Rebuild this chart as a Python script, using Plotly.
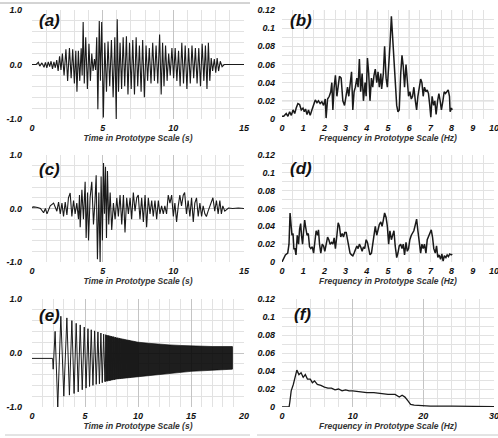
import plotly.graph_objects as go

# ---- (a) acceleration record, time [s] / normalised amplitude ----
a_time = [0.0, 0.3, 0.45, 0.55, 0.7, 0.85, 0.95, 1.05, 1.15, 1.25, 1.35, 1.45, 1.55, 1.65, 1.75, 1.85,
          1.95, 2.05, 2.15, 2.27, 2.4, 2.52, 2.65, 2.77, 2.88, 3.0, 3.1, 3.18, 3.28, 3.38, 3.48, 3.55,
          3.62, 3.7, 3.8, 3.92, 4.03, 4.13, 4.23, 4.32, 4.42, 4.5, 4.58, 4.66, 4.76, 4.84, 4.93, 5.05,
          5.15, 5.27, 5.38, 5.5, 5.62, 5.74, 5.86, 5.96, 6.03, 6.12, 6.23, 6.34, 6.45, 6.56, 6.68, 6.79,
          6.9, 7.02, 7.13, 7.25, 7.37, 7.48, 7.6, 7.72, 7.83, 7.95, 8.07, 8.18, 8.3, 8.42, 8.54, 8.66,
          8.78, 8.9, 9.03, 9.14, 9.24, 9.34, 9.45, 9.56, 9.67, 9.78, 9.9, 10.02, 10.13, 10.25, 10.37,
          10.48, 10.6, 10.72, 10.84, 10.96, 11.08, 11.2, 11.32, 11.44, 11.56, 11.68, 11.8, 11.92, 12.04,
          12.16, 12.27, 12.38, 12.48, 12.58, 12.68, 12.78, 12.9, 13.0, 13.1, 13.2, 13.32, 13.45, 13.6, 15.0]
a_acc = [0.0, 0.0, 0.04, -0.03, 0.03, -0.05, 0.04, -0.06, 0.05, -0.04, 0.06, -0.08, 0.05, -0.06, 0.08, -0.12,
         0.15, -0.1, 0.2, -0.2, 0.28, -0.3, 0.3, -0.25, 0.28, -0.35, 0.25, -0.5, 0.25, -0.3, 0.3, -0.2,
         0.78, -0.35, 0.5, -0.45, 0.38, -0.3, 0.2, -0.12, 0.1, -0.1, 0.5, -0.82, 0.8, -0.3, 0.78, -0.97,
         0.4, -0.5, 0.42, -0.4, 0.45, -0.6, 0.5, -1.0, 0.83, -0.5, 0.4, -0.45, 0.5, -0.4, 0.52, -0.55,
         0.4, -0.45, 0.45, -0.55, 0.5, -0.4, 0.35, -0.5, 0.45, -0.6, 0.35, -0.3, 0.3, -0.35, 0.4, -0.3,
         0.35, -0.35, 0.55, -0.55, 0.4, -0.4, 0.35, -0.3, 0.2, -0.2, 0.3, -0.25, 0.3, -0.3, 0.25,
         -0.4, 0.4, -0.35, 0.35, -0.45, 0.3, -0.35, 0.35, -0.25, 0.3, -0.35, 0.3, -0.4, 0.38,
         -0.3, 0.35, -0.45, 0.4, -0.3, 0.12, -0.12, 0.1, -0.15, 0.12, -0.12, 0.06, -0.04, 0.0, 0.0]

# ---- (b) Fourier amplitude of (a) ----
b_freq = [0.0, 0.08, 0.2, 0.28, 0.36, 0.44, 0.52, 0.6, 0.67, 0.75, 0.83, 0.91, 0.99, 1.05, 1.11, 1.18,
          1.25, 1.33, 1.41, 1.49, 1.57, 1.65, 1.72, 1.8, 1.88, 1.96, 2.04, 2.08, 2.15, 2.23, 2.3, 2.35,
          2.4, 2.46, 2.52, 2.59, 2.65, 2.71, 2.79, 2.87, 2.95, 3.03, 3.09, 3.15, 3.21, 3.28, 3.34, 3.4,
          3.46, 3.53, 3.59, 3.65, 3.71, 3.78, 3.84, 3.92, 3.97, 4.03, 4.09, 4.15, 4.22, 4.28, 4.34, 4.4,
          4.47, 4.53, 4.59, 4.66, 4.7, 4.78, 4.84, 4.91, 4.97, 5.03, 5.09, 5.16, 5.22, 5.28, 5.34, 5.41,
          5.47, 5.53, 5.6, 5.66, 5.72, 5.78, 5.85, 5.91, 5.97, 6.03, 6.1, 6.16, 6.22, 6.29, 6.35, 6.41,
          6.47, 6.54, 6.6, 6.66, 6.72, 6.79, 6.85, 6.91, 6.97, 7.02, 7.08, 7.15, 7.21, 7.27, 7.34, 7.4,
          7.46, 7.52, 7.59, 7.65, 7.71, 7.77, 7.84, 7.9, 7.93, 7.99, 8.03]
b_amp = [0.003, 0.003, 0.006, 0.003, 0.008, 0.004, 0.01, 0.006, 0.012, 0.017, 0.016, 0.01, 0.012, 0.008, 0.011, 0.005,
         0.01, 0.004, 0.01, 0.015, 0.021, 0.018, 0.02, 0.017, 0.019, 0.015, 0.022, 0.001, 0.022, 0.025, 0.03, 0.04,
         0.01, 0.035, 0.048, 0.025, 0.035, 0.047, 0.045, 0.02, 0.015, 0.03, 0.035, 0.025, 0.035, 0.052, 0.01, 0.03,
         0.035, 0.045, 0.035, 0.066, 0.03, 0.05, 0.02, 0.04, 0.025, 0.067, 0.05, 0.02, 0.045, 0.035, 0.048, 0.055,
         0.04, 0.052, 0.035, 0.05, 0.033, 0.05, 0.08, 0.045, 0.035, 0.055, 0.08, 0.113, 0.09, 0.06, 0.035, 0.015,
         0.008, 0.01, 0.05, 0.07, 0.058, 0.035, 0.06, 0.04, 0.025, 0.03, 0.022, 0.025, 0.035, 0.02, 0.01, 0.025,
         0.035, 0.044, 0.04, 0.025, 0.035, 0.03, 0.032, 0.028, 0.015, 0.002, 0.025, 0.015, 0.02, 0.005, 0.02, 0.028,
         0.02, 0.01, 0.02, 0.03, 0.028, 0.03, 0.032, 0.025, 0.008, 0.012, 0.01]

# ---- (c) acceleration record ----
c_time = [0.0, 0.12, 0.4, 0.6, 0.82, 0.95, 1.06, 1.29, 1.53, 1.76, 1.88, 2.0, 2.12, 2.23, 2.35, 2.47,
          2.58, 2.7, 2.82, 2.94, 3.05, 3.17, 3.29, 3.36, 3.41, 3.53, 3.64, 3.76, 3.83, 3.93, 4.0, 4.11,
          4.23, 4.35, 4.45, 4.54, 4.63, 4.73, 4.82, 4.89, 4.98, 5.06, 5.13, 5.2, 5.27, 5.34, 5.43, 5.53,
          5.64, 5.76, 5.88, 6.0, 6.11, 6.23, 6.35, 6.47, 6.58, 6.7, 6.82, 6.94, 7.05, 7.17, 7.29, 7.41,
          7.52, 7.64, 7.76, 7.88, 8.0, 8.11, 8.23, 8.35, 8.47, 8.58, 8.7, 8.82, 8.94, 9.05, 9.17, 9.29,
          9.4, 9.52, 9.64, 9.76, 9.88, 10.0, 10.11, 10.23, 10.35, 10.46, 10.58, 10.7, 10.8, 10.93, 11.05,
          11.17, 11.29, 11.41, 11.52, 11.64, 11.76, 11.88, 12.0, 12.11, 12.23, 12.34, 12.46, 12.58, 12.7,
          12.8, 12.93, 13.05, 13.17, 13.29, 13.4, 13.5, 13.64, 13.9, 14.2, 14.6, 15.0]
c_acc = [0.02, 0.03, 0.02, 0.0, -0.08, 0.0, -0.1, 0.05, 0.1, -0.05, 0.12, -0.1, 0.1, -0.15, 0.12, -0.12,
         0.2, 0.29, -0.15, 0.15, -0.1, 0.1, -0.2, 0.25, -0.35, 0.35, -0.2, 0.5, -0.55, 0.3, -0.6, 0.2,
         0.5, -0.3, 0.1, 0.62, -0.95, 0.3, -1.0, 0.6, -0.6, 0.85, -0.1, 0.78, -0.55, 0.7, -0.3, 0.3,
         -0.4, 0.1, -0.2, 0.2, -0.15, 0.25, -0.3, 0.25, -0.45, 0.2, -0.1, 0.2, -0.2, 0.3, -0.05, 0.2,
         0.25, -0.2, 0.2, -0.25, 0.25, -0.35, 0.2, -0.1, 0.15, -0.15, 0.15, -0.2, 0.15, -0.1, 0.05, -0.1,
         0.05, -0.1, 0.25, 0.1, 0.25, -0.15, 0.1, -0.25, 0.05, 0.25, 0.05, 0.25, 0.3, -0.1, 0.15,
         -0.15, 0.2, -0.25, 0.1, 0.2, -0.15, 0.1, -0.15, 0.05, -0.1, -0.15, -0.05, 0.05, 0.15,
         0.2, -0.05, 0.15, -0.1, 0.15, -0.1, 0.05, -0.05, 0.01, 0.0, 0.01, 0.0]

# ---- (d) Fourier amplitude of (c) ----
d_freq = [0.0, 0.08, 0.16, 0.27, 0.33, 0.38, 0.42, 0.47, 0.52, 0.56, 0.61, 0.66, 0.72, 0.78, 0.83, 0.88,
          0.92, 0.97, 1.02, 1.07, 1.11, 1.18, 1.24, 1.3, 1.36, 1.43, 1.49, 1.55, 1.61, 1.68, 1.72, 1.77,
          1.83, 1.9, 1.96, 2.02, 2.08, 2.15, 2.21, 2.27, 2.34, 2.4, 2.46, 2.52, 2.59, 2.65, 2.71, 2.77,
          2.84, 2.9, 2.96, 3.03, 3.09, 3.15, 3.21, 3.28, 3.34, 3.4, 3.46, 3.53, 3.59, 3.65, 3.71, 3.78,
          3.84, 3.9, 3.97, 4.03, 4.09, 4.15, 4.22, 4.28, 4.34, 4.4, 4.47, 4.53, 4.59, 4.66, 4.72, 4.78,
          4.84, 4.91, 4.97, 5.03, 5.09, 5.16, 5.22, 5.28, 5.34, 5.41, 5.47, 5.53, 5.6, 5.66, 5.72, 5.78,
          5.85, 5.91, 5.97, 6.03, 6.1, 6.16, 6.22, 6.29, 6.35, 6.41, 6.47, 6.54, 6.6, 6.66, 6.72, 6.79,
          6.85, 6.91, 6.97, 7.04, 7.1, 7.16, 7.23, 7.29, 7.35, 7.41, 7.48, 7.54, 7.6, 7.66, 7.73, 7.79,
          7.85, 7.91, 7.98, 8.03]
d_amp = [0.0, 0.004, 0.008, 0.01, 0.02, 0.055, 0.04, 0.03, 0.032, 0.015, 0.015, 0.008, 0.03, 0.02, 0.037, 0.043,
         0.03, 0.02, 0.035, 0.047, 0.04, 0.03, 0.032, 0.017, 0.015, 0.017, 0.01, 0.02, 0.035, 0.03, 0.036, 0.02,
         0.01, 0.02, 0.018, 0.012, 0.022, 0.028, 0.025, 0.02, 0.022, 0.02, 0.027, 0.015, 0.03, 0.044, 0.04, 0.028,
         0.032, 0.028, 0.033, 0.033, 0.025, 0.015, 0.01, 0.008, 0.007, 0.01, 0.015, 0.018, 0.015, 0.02, 0.017, 0.012,
         0.017, 0.015, 0.025, 0.022, 0.015, 0.008, 0.01, 0.02, 0.025, 0.04, 0.03, 0.036, 0.042, 0.045, 0.04, 0.047,
         0.055, 0.05, 0.04, 0.02, 0.035, 0.025, 0.03, 0.035, 0.018, 0.005, 0.01, 0.018, 0.02, 0.015, 0.02, 0.008,
         0.022, 0.012, 0.015, 0.025, 0.03, 0.033, 0.035, 0.042, 0.048, 0.035, 0.025, 0.01, 0.02, 0.015, 0.02, 0.01,
         0.025, 0.03, 0.032, 0.036, 0.028, 0.015, 0.01, 0.018, 0.005, 0.008, 0.003, 0.009, 0.001, 0.007, 0.005, 0.008,
         0.006, 0.009, 0.008, 0.009]

# ---- (e) sine-sweep record: resolved cycles, then the dense band envelope ----
e_time = [0.0, 1.9, 1.95, 2.0, 2.18, 2.43, 2.72, 3.0, 3.29, 3.53, 3.76, 3.97, 4.17, 4.36, 4.55, 4.74,
          4.93, 5.1, 5.28, 5.43, 5.59, 5.75, 5.91, 6.06, 6.22, 6.36, 6.5, 6.63, 6.76, 6.88, 7.0, 7.12,
          7.24, 7.35, 7.46, 7.57, 7.68, 7.78, 7.88, 7.98, 8.08, 8.17, 8.26, 8.35, 8.44, 8.52, 8.6, 8.68,
          8.76, 8.84, 8.92, 9.0, 9.07, 9.14, 9.21, 9.28, 9.35, 9.42, 9.49, 9.56, 9.63, 9.7, 9.77, 9.84,
          9.9, 9.96, 10.02]
e_acc = [-0.1, -0.1, -0.1, -0.3, 0.4, -1.0, 0.68, -0.8, 0.65, -0.78, 0.6, -0.75, 0.55, -0.72, 0.52, -0.68,
         0.48, -0.65, 0.45, -0.62, 0.43, -0.6, 0.41, -0.58, 0.39, -0.57, 0.37, -0.55, 0.35, -0.53, 0.33, -0.52,
         0.32, -0.51, 0.31, -0.5, 0.3, -0.49, 0.29, -0.48, 0.28, -0.475, 0.27, -0.47, 0.26, -0.465, 0.25, -0.46,
         0.245, -0.46, 0.24, -0.455, 0.235, -0.45, 0.23, -0.45, 0.22, -0.44, 0.215, -0.44, 0.21, -0.435, 0.205,
         -0.43, 0.2, -0.43, 0.2]
e_band_time = [6.9, 7.0, 8.0, 9.0, 10.0, 11.0, 12.0, 13.0, 14.0, 15.0, 16.0, 17.0, 18.0, 18.9]
e_band_top = [0.34, 0.33, 0.28, 0.24, 0.2, 0.18, 0.16, 0.15, 0.14, 0.13, 0.12, 0.12, 0.12, 0.12]
e_band_bottom = [-0.53, -0.52, -0.48, -0.46, -0.43, -0.41, -0.39, -0.37, -0.35, -0.34, -0.33, -0.32, -0.31, -0.3]

# ---- (f) Fourier amplitude of (e) ----
f_freq = [0.0, 1.0, 1.1, 1.3, 1.6, 1.9, 2.1, 2.4, 2.7, 3.0, 3.3, 3.6, 4.0, 4.3, 4.6, 5.0, 5.5, 6.0,
          6.5, 7.0, 7.5, 8.0, 8.5, 9.0, 9.5, 10.0, 11.0, 12.0, 13.0, 14.0, 15.0, 16.0, 16.6, 17.0, 17.4,
          17.8, 18.2, 18.7, 19.5, 21.0, 24.0, 27.0, 30.0]
f_amp = [0.0, 0.0, 0.005, 0.018, 0.025, 0.035, 0.041, 0.036, 0.038, 0.033, 0.036, 0.031, 0.031, 0.027,
         0.029, 0.025, 0.024, 0.022, 0.021, 0.021, 0.019, 0.02, 0.018, 0.019, 0.018, 0.018, 0.017, 0.016,
         0.016, 0.015, 0.014, 0.014, 0.011, 0.013, 0.011, 0.007, 0.003, 0.002, 0.0015, 0.001, 0.001, 0.0005, 0.0005]

panel_tags = ["(a)", "(b)", "(c)", "(d)", "(e)", "(f)"]
time_title = "Time in Prototype Scale (s)"
freq_title = "Frequency in Prototype Scale (Hz)"

W, H = 498, 438
LINE = "#1a1a1a"
FONT = "Liberation Sans"
GRID_MAJOR = "#c4c4c4"
GRID_MINOR = "#e2e2e2"


def px(x):
    return x / W


def py(y):
    return 1 - y / H


left_dom = [px(32), px(244)]
right_dom = [px(282), px(494)]
rows = [[py(119), py(10)], [py(262), py(155)], [py(407), py(299)]]

fig = go.Figure()

tick_font = dict(family=FONT, size=9, color="#111111", weight="bold", style="italic")
title_font = dict(family=FONT, size=8.5, color="#333333", weight="bold", style="italic")


def time_axes(xmax, row):
    xa = dict(domain=left_dom, range=[0, xmax], dtick=5, tick0=0, showgrid=True, gridcolor=GRID_MAJOR,
              gridwidth=1, minor=dict(dtick=1, showgrid=True, gridcolor=GRID_MINOR, gridwidth=1),
              zeroline=False, showline=False, ticks="", tickfont=tick_font, ticklabelstandoff=2,
              ticklabeloverflow="allow",
              title=dict(text=time_title, font=title_font, standoff=1), automargin=False, fixedrange=True)
    ya = dict(domain=rows[row], range=[-1, 1], tickvals=[-1, 0, 1], ticktext=["-1.0", "0.0", "1.0"],
              showgrid=True, gridcolor=GRID_MAJOR, gridwidth=1,
              minor=dict(tickvals=[-0.8, -0.6, -0.4, -0.2, 0.2, 0.4, 0.6, 0.8], showgrid=True,
                         gridcolor=GRID_MINOR, gridwidth=1),
              zeroline=False, showline=False, ticks="", tickfont=tick_font, ticklabelstandoff=9,
              ticklabeloverflow="allow", automargin=False, fixedrange=True)
    return xa, ya


def freq_axes(xmax, xdtick, xminor, row, major_grid):
    xa = dict(domain=right_dom, range=[0, xmax], dtick=xdtick, tick0=0, showgrid=True, gridcolor=major_grid,
              gridwidth=1, minor=dict(dtick=xminor, showgrid=True, gridcolor=GRID_MINOR, gridwidth=1),
              zeroline=False, showline=False, ticks="", tickfont=tick_font, ticklabelstandoff=2,
              ticklabeloverflow="allow",
              title=dict(text=freq_title, font=title_font, standoff=1), automargin=False, fixedrange=True)
    ya = dict(domain=rows[row], range=[0, 0.12],
              tickvals=[0, 0.02, 0.04, 0.06, 0.08, 0.1, 0.12],
              ticktext=["0", "0.02", "0.04", "0.06", "0.08", "0.1", "0.12"],
              showgrid=True, gridcolor=GRID_MINOR, gridwidth=1,
              minor=dict(tickvals=[0.01, 0.03, 0.05, 0.07, 0.09, 0.11], showgrid=True,
                         gridcolor=GRID_MINOR, gridwidth=1),
              zeroline=False, showline=False, ticks="", tickfont=tick_font, ticklabelstandoff=6,
              ticklabeloverflow="allow", automargin=False, fixedrange=True)
    return xa, ya


axes = {}
xa, ya = time_axes(15, 0); axes["xaxis"], axes["yaxis"] = xa, ya
xa, ya = freq_axes(10, 1, 0.5, 0, GRID_MINOR); axes["xaxis2"], axes["yaxis2"] = xa, ya
xa, ya = time_axes(15, 1); axes["xaxis3"], axes["yaxis3"] = xa, ya
xa, ya = freq_axes(10, 1, 0.5, 1, GRID_MINOR); axes["xaxis4"], axes["yaxis4"] = xa, ya
xa, ya = time_axes(20, 2); axes["xaxis5"], axes["yaxis5"] = xa, ya
xa, ya = freq_axes(30, 10, 2, 2, GRID_MAJOR); axes["xaxis6"], axes["yaxis6"] = xa, ya
for i in range(2, 7):
    axes[f"xaxis{i}"]["anchor"] = f"y{i}"
    axes[f"yaxis{i}"]["anchor"] = f"x{i}"
axes["xaxis"]["anchor"] = "y"
axes["yaxis"]["anchor"] = "x"

series = [(a_time, a_acc, "x", "y", 1.1), (b_freq, b_amp, "x2", "y2", 1.5),
          (c_time, c_acc, "x3", "y3", 1.1), (d_freq, d_amp, "x4", "y4", 1.5),
          (f_freq, f_amp, "x6", "y6", 1.3)]
for xs, ys, xr, yr, w in series:
    fig.add_trace(go.Scatter(x=xs, y=ys, xaxis=xr, yaxis=yr, mode="lines",
                             line=dict(color=LINE, width=w), hoverinfo="skip"))

# dense part of the sweep shown as a filled band between its envelopes
fig.add_trace(go.Scatter(x=e_band_time, y=e_band_bottom, xaxis="x5", yaxis="y5", mode="lines",
                         line=dict(color="rgba(0,0,0,0.6)", width=1), hoverinfo="skip"))
fig.add_trace(go.Scatter(x=e_band_time, y=e_band_top, xaxis="x5", yaxis="y5", mode="lines",
                         line=dict(color="rgba(0,0,0,0.6)", width=1), fill="tonexty",
                         fillcolor="rgba(5,5,5,0.9)", hoverinfo="skip"))
fig.add_trace(go.Scatter(x=e_time, y=e_acc, xaxis="x5", yaxis="y5", mode="lines",
                         line=dict(color=LINE, width=1.0), hoverinfo="skip"))
# right edge of the band
fig.add_trace(go.Scatter(x=[e_band_time[-1], e_band_time[-1]], y=[e_band_bottom[-1], e_band_top[-1]],
                         xaxis="x5", yaxis="y5", mode="lines", line=dict(color=LINE, width=1),
                         hoverinfo="skip"))

tag_pos = [(37, 21), (288, 21), (37, 170), (288, 168), (37, 315), (292, 314)]
annotations = []
for tag, (x, y) in zip(panel_tags, tag_pos):
    annotations.append(dict(text=tag, x=px(x), y=py(y), xref="paper", yref="paper",
                            xanchor="left", yanchor="middle", showarrow=False,
                            font=dict(family=FONT, size=17, color="#111111", weight="bold", style="italic")))

# darker grid every 2 Hz on the 0-10 Hz spectra
shapes = []
for xr, yr in (("x2", "y2"), ("x4", "y4")):
    for f in (2, 4, 6, 8):
        shapes.append(dict(type="line", xref=xr, yref=f"{yr} domain", x0=f, x1=f, y0=0, y1=1,
                           layer="below", line=dict(color=GRID_MAJOR, width=1)))
    shapes.append(dict(type="line", xref=f"{xr} domain", yref=yr, x0=0, x1=1, y0=0.02, y1=0.02,
                       layer="below", line=dict(color=GRID_MAJOR, width=1)))

shapes += [
    dict(type="line", xref="paper", yref="paper", x0=0, x1=px(250), y0=py(3), y1=py(3),
         line=dict(color="#a8a8a8", width=1)),
    dict(type="line", xref="paper", yref="paper", x0=px(5), x1=px(250), y0=py(435), y1=py(435),
         line=dict(color="#c8c8c8", width=1)),
    dict(type="line", xref="paper", yref="paper", x0=px(257), x1=1, y0=py(435), y1=py(435),
         line=dict(color="#c8c8c8", width=1)),
]

fig.update_layout(width=W, height=H, margin=dict(l=0, r=0, t=0, b=0), template="none",
                  paper_bgcolor="white", plot_bgcolor="white", showlegend=False,
                  annotations=annotations, shapes=shapes, **axes)

fig.write_html("out.html")
